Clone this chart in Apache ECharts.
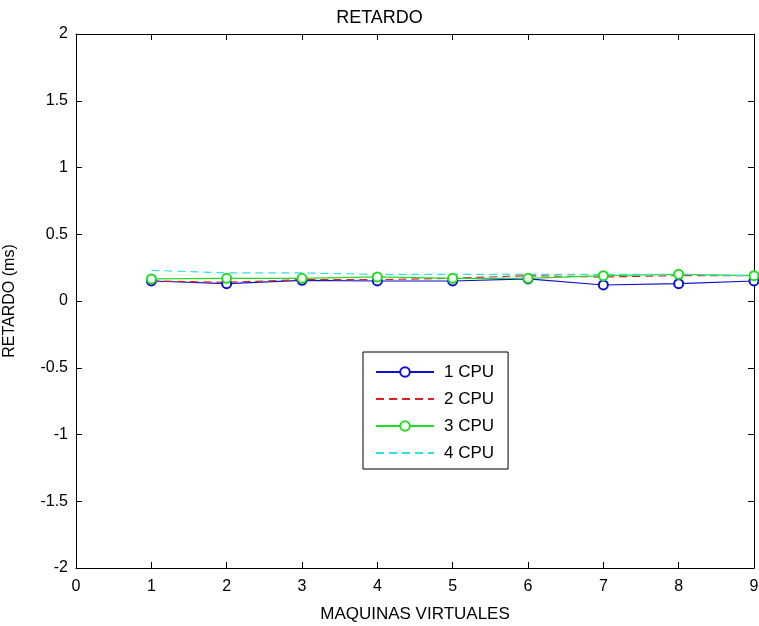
<!DOCTYPE html>
<html><head><meta charset="utf-8">
<script src="https://cdn.jsdelivr.net/npm/echarts@6/dist/echarts.min.js"></script>
<style>html,body{margin:0;padding:0;background:#fff}#c{width:759px;height:626px}</style>
</head><body><div id="c"></div>
<script>
const categories = [1, 2, 3, 4, 5, 6, 7, 8, 9];
const cpu1 = [0.15, 0.13, 0.155, 0.15, 0.15, 0.165, 0.12, 0.13, 0.15];
const cpu2 = [0.15, 0.14, 0.16, 0.16, 0.17, 0.19, 0.18, 0.19, 0.19];
const cpu3 = [0.165, 0.17, 0.17, 0.18, 0.17, 0.17, 0.19, 0.2, 0.19];
const cpu4 = [0.23, 0.21, 0.21, 0.2, 0.2, 0.2, 0.2, 0.2, 0.19];
const seriesNames = ['1 CPU', '2 CPU', '3 CPU', '4 CPU'];
const yTicks = [-2, -1.5, -1, -0.5, 0, 0.5, 1, 1.5, 2];

const font = 'Liberation Sans, Arial, sans-serif';
const pair = (arr) => categories.map((c, i) => [c, arr[i]]);
const axisCommon = {
  axisLine: { show: true, onZero: false, lineStyle: { color: '#000', width: 1 } },
  axisTick: { show: true, inside: true, length: 6, lineStyle: { color: '#000' } },
  splitLine: { show: false }
};
const chart = echarts.init(document.getElementById('c'));
chart.setOption({
  animation: false,
  backgroundColor: '#fff',
  title: { text: 'RETARDO', left: 'center', top: 4, textStyle: { fontFamily: font, fontSize: 18, fontWeight: 'normal', color: '#000' } },
  grid: { left: 76, right: 5, top: 34, bottom: 58, containLabel: false, outerBoundsMode: 'none' },
  legend: {
    orient: 'vertical', left: 363, top: 352,
    data: [
      { name: seriesNames[0] },
      { name: seriesNames[1], itemStyle: { opacity: 0 } },
      { name: seriesNames[2] },
      { name: seriesNames[3], itemStyle: { opacity: 0 } }
    ],
    backgroundColor: '#fff', borderColor: '#000', borderWidth: 1,
    padding: [11, 14, 7, 12], itemWidth: 58, itemHeight: 12, itemGap: 9,
    textStyle: { fontFamily: font, fontSize: 17, lineHeight: 18, color: '#000', padding: [0, 0, 0, 5] }
  },
  xAxis: [
    Object.assign({ type: 'value', min: 0, max: 9, interval: 1, position: 'bottom',
      name: 'MAQUINAS VIRTUALES', nameLocation: 'middle', nameGap: 38,
      nameTextStyle: { fontFamily: font, fontSize: 17, color: '#000' },
      axisLabel: { fontFamily: font, fontSize: 16, color: '#000', margin: 11 } }, axisCommon),
    Object.assign({ type: 'value', min: 0, max: 9, interval: 1, position: 'top', axisLabel: { show: false } }, axisCommon)
  ],
  yAxis: [
    Object.assign({ type: 'value', min: yTicks[0], max: yTicks[yTicks.length - 1], interval: 0.5, position: 'left',
      name: 'RETARDO (ms)', nameLocation: 'middle', nameGap: 58,
      nameTextStyle: { fontFamily: font, fontSize: 16, color: '#000' },
      axisLabel: { fontFamily: font, fontSize: 16, color: '#000', margin: 8 } }, axisCommon),
    Object.assign({ type: 'value', min: yTicks[0], max: yTicks[yTicks.length - 1], interval: 0.5, position: 'right', axisLabel: { show: false } }, axisCommon)
  ],
  series: [
    { name: seriesNames[0], type: 'line', data: pair(cpu1), color: '#1010d0', symbol: 'emptyCircle', symbolSize: 9,
      lineStyle: { width: 1.2, type: 'solid' }, itemStyle: { borderWidth: 1.2 } },
    { name: seriesNames[1], type: 'line', data: pair(cpu2), color: '#e02020', symbol: 'none',
      lineStyle: { width: 1.2, type: [8, 5] } },
    { name: seriesNames[2], type: 'line', data: pair(cpu3), color: '#22dd22', symbol: 'emptyCircle', symbolSize: 9,
      lineStyle: { width: 1.2, type: 'solid' }, itemStyle: { borderWidth: 1.2 } },
    { name: seriesNames[3], type: 'line', data: pair(cpu4), color: '#33e0e0', symbol: 'none',
      lineStyle: { width: 1.2, type: [8, 5] } }
  ]
});
</script></body></html>
